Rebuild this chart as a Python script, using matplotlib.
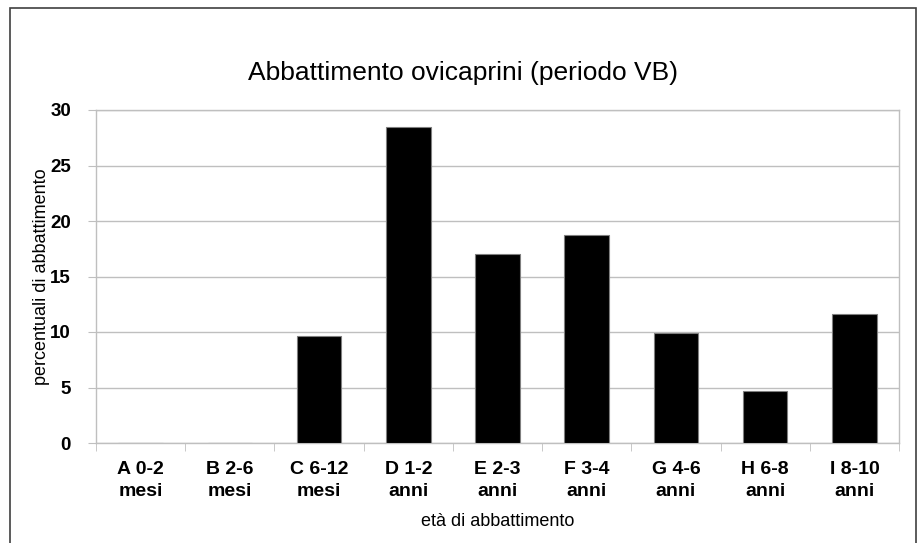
import numpy as np
import matplotlib.pyplot as plt
from matplotlib.patches import Rectangle

plt.rcParams['font.family'] = ['Liberation Sans', 'DejaVu Sans']

categories = ['A 0-2\nmesi', 'B 2-6\nmesi', 'C 6-12\nmesi', 'D 1-2\nanni', 'E 2-3\nanni',
              'F 3-4\nanni', 'G 4-6\nanni', 'H 6-8\nanni', 'I 8-10\nanni']
values = [0, 0, 9.6, 28.5, 17.0, 18.7, 9.9, 4.7, 11.6]
yticks = [0, 5, 10, 15, 20, 25, 30]

W, H = 921, 543
fig = plt.figure(figsize=(W/100, H/100), dpi=100)
ax = fig.add_axes([96/W, 1-443/H, 803/W, 333/H])

x = np.arange(len(categories))
ax.bar(x, values, width=0.5, color='black', edgecolor='#7f7f7f', linewidth=0.8, zorder=3)

ax.set_xlim(-0.5, len(categories)-0.5)
ax.set_ylim(0, 30)
ax.set_yticks(yticks)
ax.set_yticklabels([str(v) for v in yticks], fontsize=13.5, fontweight='bold')
ax.set_xticks(x)
ax.set_xticklabels(categories, fontsize=14, fontweight='bold', linespacing=1.4)
ax.tick_params(axis='x', length=0, pad=13)
ax.tick_params(axis='y', length=6, color='#bfbfbf', pad=12)
# category boundary ticks
ax.set_xticks(np.arange(-0.5, len(categories)), minor=True)
ax.tick_params(axis='x', which='minor', length=6, color='#bfbfbf')

ax.grid(axis='y', color='#bfbfbf', linewidth=1, zorder=0)
for s in ax.spines.values():
    s.set_color('#bfbfbf')
    s.set_linewidth(1)

ax.set_ylabel('percentuali di abbattimento', fontsize=13)
ax.yaxis.set_label_coords(-0.057, 0.5)
ax.set_xlabel('età di abbattimento', fontsize=13, labelpad=9)

fig.text(463/W, 1-73/H, 'Abbattimento ovicaprini (periodo VB)', fontsize=19,
         ha='center', va='center')

# outer chart frame
fig.patches.append(Rectangle((10/W, -0.02), 906/W, 1-8/H+0.02, transform=fig.transFigure,
                             fill=False, edgecolor='#404040', linewidth=1.2))

fig.savefig('out.png', dpi=100)
